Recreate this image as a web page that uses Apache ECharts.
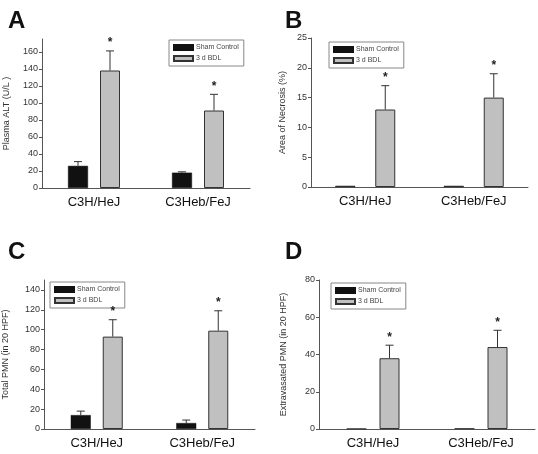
<!DOCTYPE html>
<html><head><meta charset="utf-8">
<script src="https://cdn.jsdelivr.net/npm/echarts@6/dist/echarts.min.js"></script>
<style>html,body{margin:0;padding:0;background:#fff}#c{width:538px;height:454px}</style>
</head><body><div id="c"></div>
<script>
// ---- data ----
const categories = ['C3H/HeJ', 'C3Heb/FeJ'];
const seriesNames = ['Sham Control', '3 d BDL'];
// Panel A: Plasma ALT (U/L)
const altSham = [26, 18];
const altShamErr = [5, 1];
const altBdl = [138, 91];
const altBdlErr = [23, 19];
const altTicks = [0, 20, 40, 60, 80, 100, 120, 140, 160];
// Panel B: Area of Necrosis (%)
const necSham = [0.2, 0.2];
const necShamErr = [0, 0];
const necBdl = [13, 15];
const necBdlErr = [4, 4];
const necTicks = [0, 5, 10, 15, 20, 25];
// Panel C: Total PMN (in 20 HPF)
const pmnSham = [14, 6];
const pmnShamErr = [4, 3];
const pmnBdl = [93, 99];
const pmnBdlErr = [17, 20];
const pmnTicks = [0, 20, 40, 60, 80, 100, 120, 140];
// Panel D: Extravasated PMN (in 20 HPF)
const exSham = [0.3, 0.4];
const exShamErr = [0, 0];
const exBdl = [38, 44];
const exBdlErr = [7, 9];
const exTicks = [0, 20, 40, 60, 80];
// significance markers
const bdlStars = ['*', '*'];
const shamStars = ['', ''];

// ---- layout / style ----
const FONT = 'Liberation Sans, Arial, sans-serif';
const BAR_W = 20;
const panels = [
  {letter:'A', lx:3, ly:4, grid:{left:42, top:39, width:208, height:149}, max:175, ticks:altTicks, interval:20,
   title:'Plasma ALT (U/L )', nameGap:31, gapPx:12, sham:altSham, shamErr:altShamErr, bdl:altBdl, bdlErr:altBdlErr,
   legend:{left:169, top:40}},
  {letter:'B', lx:280, ly:4, grid:{left:311, top:38, width:217, height:149}, max:25, ticks:necTicks, interval:5,
   title:'Area of Necrosis (%)', nameGap:24, gapPx:20, sham:necSham, shamErr:necShamErr, bdl:necBdl, bdlErr:necBdlErr,
   legend:{left:329, top:42}},
  {letter:'C', lx:3, ly:235, grid:{left:42, top:280, width:213, height:149}, max:150, ticks:pmnTicks, interval:10,
   title:'Total PMN (in 20 HPF)', nameGap:34, gapPx:12, sham:pmnSham, shamErr:pmnShamErr, bdl:pmnBdl, bdlErr:pmnBdlErr,
   legend:{left:50, top:282}},
  {letter:'D', lx:280, ly:235, grid:{left:319, top:280, width:216, height:149}, max:80, ticks:exTicks, interval:20,
   title:'Extravasated PMN (in 20 HPF)', nameGap:31, gapPx:13, sham:exSham, shamErr:exShamErr, bdl:exBdl, bdlErr:exBdlErr,
   legend:{left:331, top:283}}
];

function errRender(offset, stars) {
  return function (params, api) {
    const i = api.value(0), v = api.value(1), e = api.value(2);
    const star = stars[params.dataIndex];
    const base = api.coord([i, v]);
    const top = api.coord([i, v + e]);
    const x = base[0] + offset;
    const children = [];
    if (e > 0) {
      children.push({type:'line', shape:{x1:x, y1:base[1], x2:x, y2:top[1]}, style:{stroke:'#333', lineWidth:1}});
      children.push({type:'line', shape:{x1:x-4, y1:top[1], x2:x+4, y2:top[1]}, style:{stroke:'#333', lineWidth:1}});
    }
    if (star) {
      children.push({type:'text', x:x, y:top[1]-2, style:{text:star, fill:'#222', font:'bold 12px ' + FONT, align:'center', verticalAlign:'bottom'}});
    }
    return {type:'group', children};
  };
}

const option = {
  animation:false,
  backgroundColor:'#fff',
  title:[], grid:[], xAxis:[], yAxis:[], legend:[], series:[]
};

panels.forEach((p, k) => {
  option.title.push({text:p.letter, left:p.lx, top:p.ly, textStyle:{fontFamily:FONT, fontSize:24, fontWeight:'bold', color:'#111'}});
  option.grid.push(Object.assign({containLabel:false}, p.grid));
  option.xAxis.push({type:'category', gridIndex:k, data:categories,
    axisLine:{lineStyle:{color:'#555', width:1}}, axisTick:{show:false},
    axisLabel:{fontFamily:FONT, fontSize:13, color:'#111', margin:8}});
  option.yAxis.push({type:'value', gridIndex:k, min:0, max:p.max, interval:p.interval,
    name:p.title, nameLocation:'middle', nameGap:p.nameGap,
    nameTextStyle:{fontFamily:FONT, fontSize:9, color:'#333'},
    splitLine:{show:false},
    axisLine:{show:true, lineStyle:{color:'#555', width:1}},
    axisTick:{show:true, length:3, customValues:p.ticks, lineStyle:{color:'#555'}},
    axisLabel:{fontFamily:FONT, fontSize:9, color:'#333', margin:4, customValues:p.ticks}});
  option.legend.push({data:seriesNames, orient:'vertical', left:p.legend.left, top:p.legend.top,
    icon:'rect', itemWidth:19, itemHeight:5, itemGap:4, padding:[4, 5, 4, 4],
    borderColor:'#888', borderWidth:1, textStyle:{fontFamily:FONT, fontSize:7, color:'#444', padding:[0,0,0,-2]},
    selectedMode:false});
  const gapPct = Math.round(p.gapPx / BAR_W * 100) + '%';
  option.series.push({type:'bar', name:seriesNames[0], xAxisIndex:k, yAxisIndex:k, data:p.sham,
    barWidth:BAR_W, barGap:gapPct, itemStyle:{color:'#111', borderColor:'#111', borderWidth:0.5}});
  option.series.push({type:'bar', name:seriesNames[1], xAxisIndex:k, yAxisIndex:k, data:p.bdl,
    barWidth:BAR_W, barGap:gapPct, itemStyle:{color:'#c0c0c0', borderColor:'#333', borderWidth:1}});
  const off = (BAR_W + p.gapPx) / 2;
  option.series.push({type:'custom', xAxisIndex:k, yAxisIndex:k, z:5, renderItem:errRender(-off, shamStars),
    data:categories.map((c, i) => [i, p.sham[i], p.shamErr[i]])});
  option.series.push({type:'custom', xAxisIndex:k, yAxisIndex:k, z:5, renderItem:errRender(off, bdlStars),
    data:categories.map((c, i) => [i, p.bdl[i], p.bdlErr[i]])});
});

const chart = echarts.init(document.getElementById('c'), null, {renderer:'canvas'});
chart.setOption(option);
</script>
</body></html>
